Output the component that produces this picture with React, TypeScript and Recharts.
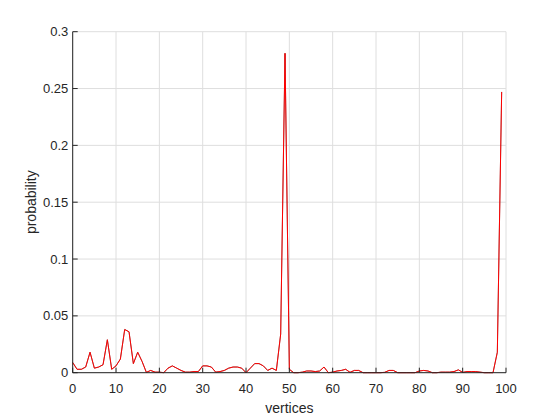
import { LineChart, Line, XAxis, YAxis, CartesianGrid } from 'recharts';

// probability of each vertex (vertex index = position in the array)
const probability = [
  0.009, 0.003, 0.003, 0.005, 0.018, 0.004, 0.005, 0.007, 0.029, 0.003,
  0.006, 0.012, 0.038, 0.036, 0.008, 0.018, 0.010, 0.0003, 0.002, 0.0005,
  0.0005, 0, 0.004, 0.006, 0.004, 0.002, 0.0005, 0.0005, 0.001, 0.001,
  0.006, 0.006, 0.005, 0.0005, 0.001, 0.002, 0.004, 0.005, 0.005, 0.004,
  0, 0.004, 0.008, 0.008, 0.006, 0.002, 0.004, 0.002, 0.034, 0.281,
  0.003, 0, 0, 0.0005, 0.0015, 0.0015, 0.001, 0.0015, 0.005, 0,
  0.0005, 0.0015, 0.002, 0.003, 0.0003, 0.002, 0.002, 0, 0, 0,
  0, 0, 0.0003, 0.002, 0.002, 0, 0, 0, 0, 0,
  0.0015, 0.002, 0.0015, 0, 0, 0.0005, 0.0005, 0.0005, 0.001, 0.0025,
  0.0003, 0.001, 0.001, 0.001, 0.0005, 0, 0, 0, 0.018, 0.247,
];

const xTicks = [0, 10, 20, 30, 40, 50, 60, 70, 80, 90, 100];
const yTicks = [0, 0.05, 0.1, 0.15, 0.2, 0.25, 0.3];

const data = probability.map((p, i) => ({ vertex: i, black: p, red: p }));

const ink = '#262626';
const font = { fontSize: 13, fill: ink, fontFamily: '"Liberation Sans", Arial, sans-serif' };
const noLabel = () => <g />;

export default function App() {
  return (
    <div style={{ position: 'absolute', left: 0, top: 0, width: 560, height: 420, background: '#fff' }}>
      <LineChart width={560} height={420} data={data} margin={{ top: 31.7, right: 54, left: 0, bottom: 0 }}>
        <CartesianGrid stroke="#dedede" strokeWidth={1} />
        <XAxis
          dataKey="vertex"
          type="number"
          domain={[0, 100]}
          ticks={xTicks}
          height={47.3}
          stroke={ink}
          tickSize={-5}
          tickMargin={16.5}
          tick={font}
          label={{ value: 'vertices', position: 'insideBottom', offset: 7, style: { ...font, fontSize: 14 } }}
        />
        <XAxis
          xAxisId="top"
          orientation="top"
          dataKey="vertex"
          type="number"
          domain={[0, 100]}
          ticks={xTicks}
          height={0}
          stroke={ink}
          tickSize={-5}
          tick={noLabel}
        />
        <YAxis
          type="number"
          domain={[0, 0.3]}
          ticks={yTicks}
          width={72.7}
          stroke={ink}
          tickSize={-5}
          tickMargin={9.4}
          tick={font}
          label={{ value: 'probability', angle: -90, position: 'insideLeft', offset: 31, style: { ...font, fontSize: 14, textAnchor: 'middle' } }}
        />
        <YAxis
          yAxisId="right"
          orientation="right"
          type="number"
          domain={[0, 0.3]}
          ticks={yTicks}
          width={0}
          stroke={ink}
          tickSize={-5}
          tick={noLabel}
        />
        <Line dataKey="black" stroke="#000" strokeWidth={0.5} dot={false} type="linear" isAnimationActive={false} />
        <Line dataKey="red" stroke="#ff0000" strokeWidth={1} dot={false} type="linear" isAnimationActive={false} />
      </LineChart>
    </div>
  );
}
